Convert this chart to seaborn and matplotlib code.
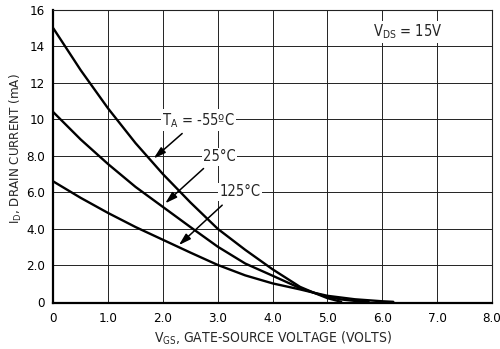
import matplotlib
matplotlib.use("Agg")
import matplotlib.pyplot as plt
import seaborn as sns
import pandas as pd

# ---- data ----
vgs_m55 = [0.0, 0.5, 1.0, 1.5, 2.0, 2.5, 3.0, 3.5, 4.0, 4.5, 4.75, 5.0, 5.25]
id_m55 = [15.0, 12.7, 10.6, 8.7, 7.0, 5.45, 4.0, 2.85, 1.78, 0.82, 0.5, 0.2, 0.0]

vgs_25 = [0.0, 0.5, 1.0, 1.5, 2.0, 2.5, 3.0, 3.5, 4.0, 4.5, 4.75, 5.0, 5.25, 5.5, 5.75]
id_25 = [10.4, 8.9, 7.55, 6.3, 5.2, 4.1, 3.02, 2.1, 1.43, 0.75, 0.5, 0.27, 0.13, 0.05, 0.0]

vgs_125 = [0.0, 0.5, 1.0, 1.5, 2.0, 2.5, 3.0, 3.5, 4.0, 4.5, 4.75, 5.0, 5.5, 6.0, 6.2]
id_125 = [6.6, 5.7, 4.87, 4.1, 3.4, 2.7, 2.02, 1.45, 1.01, 0.68, 0.5, 0.33, 0.14, 0.03, 0.0]

temps = ["-55", "25", "125"]
x_ticks = [0, 1, 2, 3, 4, 5, 6, 7, 8]
x_ticklabels = ["0", "1.0", "2.0", "3.0", "4.0", "5.0", "6.0", "7.0", "8.0"]
y_ticks = [0, 2, 4, 6, 8, 10, 12, 14, 16]
y_ticklabels = ["0", "2.0", "4.0", "6.0", "8.0", "10", "12", "14", "16"]

df = pd.concat([
    pd.DataFrame({"VGS": vgs_m55, "ID": id_m55, "T": temps[0]}),
    pd.DataFrame({"VGS": vgs_25, "ID": id_25, "T": temps[1]}),
    pd.DataFrame({"VGS": vgs_125, "ID": id_125, "T": temps[2]}),
])

sns.set_theme(style="white")
plt.rcParams["font.family"] = ["DejaVu Sans"]
plt.rcParams["font.stretch"] = "condensed"
plt.rcParams["mathtext.fontset"] = "custom"
plt.rcParams["mathtext.rm"] = "DejaVu Sans:stretch=condensed"

fig = plt.figure(figsize=(5.0, 3.49), dpi=100)
ax = fig.add_axes([0.1066, 0.131, 0.8774, 0.8403])

sns.lineplot(data=df, x="VGS", y="ID", hue="T", palette=["black"] * 3,
             linewidth=1.7, legend=False, ax=ax, sort=False)

ax.set_xlim(0, 8)
ax.set_ylim(-0.08, 16)
ax.set_xticks(x_ticks)
ax.set_xticklabels(x_ticklabels)
ax.set_yticks(y_ticks)
ax.set_yticklabels(y_ticklabels)
ax.tick_params(length=0, labelsize=9.5, pad=6, colors="black")
ax.grid(True, color="#222222", linewidth=0.7)
ax.set_axisbelow(True)
for s in ["top", "right"]:
    ax.spines[s].set_color("#222222")
    ax.spines[s].set_linewidth(0.8)
for s in ["left", "bottom"]:
    ax.spines[s].set_color("black")
    ax.spines[s].set_linewidth(1.6)

ax.set_xlabel(r"V$_\mathregular{GS}$, GATE-SOURCE VOLTAGE (VOLTS)", fontsize=10)
ax.set_ylabel(r"I$_\mathregular{D}$, DRAIN CURRENT (mA)", fontsize=9.5)
ax.xaxis.set_label_coords(0.50, -0.09)
ax.yaxis.set_label_coords(-0.066, 0.526)

bb = dict(facecolor="white", edgecolor="none", pad=1.0)
ax.text(2.65, 9.96, r"T$_\mathregular{A}$ = -55ºC", ha="center", va="center", fontsize=10.5, bbox=bb)
ax.text(3.03, 7.95, "25°C", ha="center", va="center", fontsize=10.5, bbox=bb)
ax.text(3.41, 6.03, "125°C", ha="center", va="center", fontsize=10.5, bbox=bb)
ax.text(6.46, 14.8, r"V$_\mathregular{DS}$ = 15V", ha="center", va="center", fontsize=10.5, bbox=bb)

ap = dict(arrowstyle="-|>,head_length=0.6,head_width=0.18", color="black", lw=1.1,
          shrinkA=0, shrinkB=0)
ax.annotate("", xy=(1.83, 7.86), xytext=(2.35, 9.23), arrowprops=ap)
ax.annotate("", xy=(2.04, 5.40), xytext=(2.74, 7.31), arrowprops=ap)
ax.annotate("", xy=(2.29, 3.11), xytext=(3.08, 5.30), arrowprops=ap)

fig.savefig("out.png", dpi=100)
